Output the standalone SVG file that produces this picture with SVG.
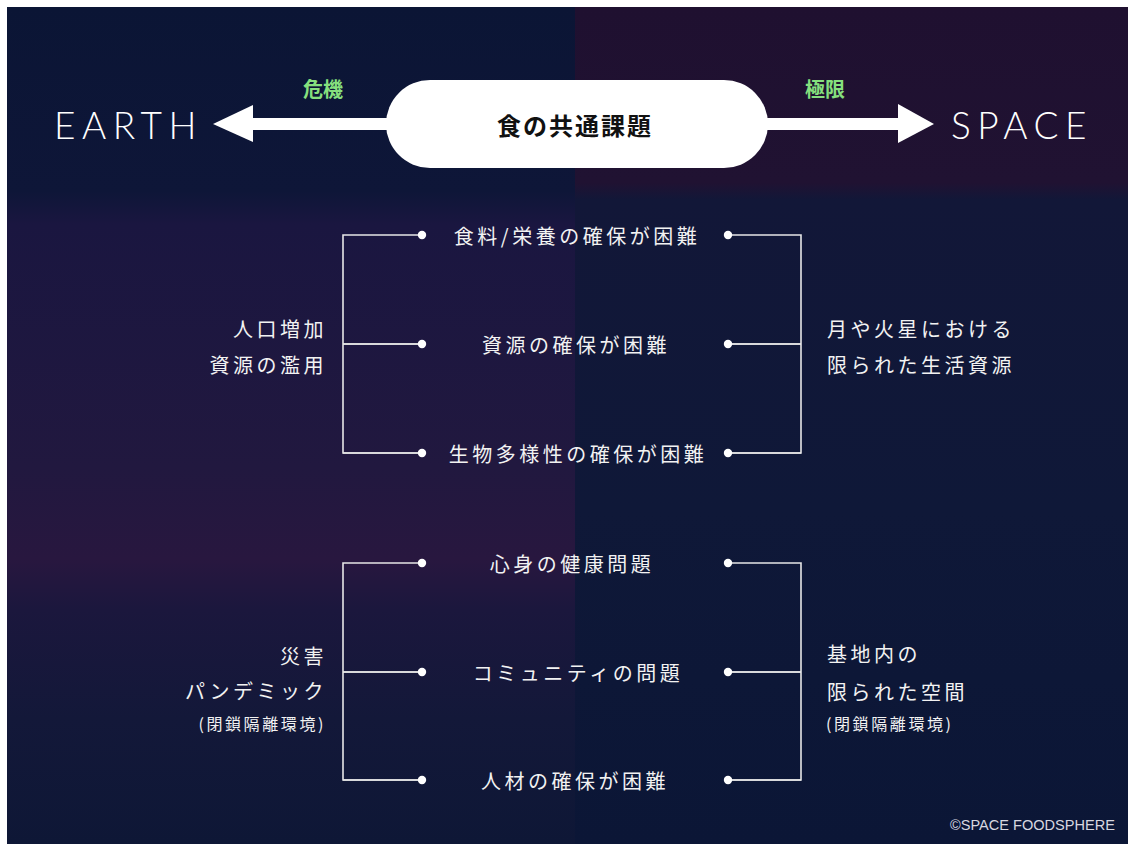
<svg xmlns="http://www.w3.org/2000/svg" width="1135" height="851" viewBox="0 0 1135 851">
  <defs>
    <linearGradient id="bgL" x1="0" y1="0" x2="0" y2="1">
      <stop offset="0" stop-color="#0b1535"/>
      <stop offset="0.22" stop-color="#0e1638"/>
      <stop offset="0.26" stop-color="#1a1640"/>
      <stop offset="0.55" stop-color="#21183f"/>
      <stop offset="0.66" stop-color="#28173f"/>
      <stop offset="0.72" stop-color="#1b173d"/>
      <stop offset="0.85" stop-color="#131839"/>
      <stop offset="1" stop-color="#0e1736"/>
    </linearGradient>
    <linearGradient id="bgR" x1="0" y1="0" x2="0" y2="1">
      <stop offset="0" stop-color="#1f1030"/>
      <stop offset="0.21" stop-color="#201232"/>
      <stop offset="0.23" stop-color="#121738"/>
      <stop offset="0.6" stop-color="#0f1838"/>
      <stop offset="1" stop-color="#0b1636"/>
    </linearGradient>
    <marker id="dot" viewBox="-5 -5 10 10" markerWidth="10" markerHeight="10" markerUnits="userSpaceOnUse">
      <circle r="4.2" fill="#ffffff"/>
    </marker>
  </defs>
  <style>
    .item { font-family: "Noto Sans CJK JP", sans-serif; font-size: 20px; fill: #f2f2f2; letter-spacing: 3.5px; text-anchor: middle; dominant-baseline: central; }
    .lab { font-family: "Noto Sans CJK JP", sans-serif; font-size: 20px; fill: #f2f2f2; letter-spacing: 3.5px; dominant-baseline: central; }
    .small { font-family: "Noto Sans CJK JP", sans-serif; font-size: 16px; fill: #f2f2f2; letter-spacing: 2.6px; dominant-baseline: central; }
    .big { font-family: Lato, "Open Sans", sans-serif; font-weight: 300; font-size: 37px; fill: #ffffff; letter-spacing: 6.5px; dominant-baseline: central; }
    .green { font-family: "Noto Sans CJK JP", sans-serif; font-weight: bold; font-size: 20px; fill: #86e07e; text-anchor: middle; dominant-baseline: central; }
    .br { fill: none; stroke: #e6e6e6; stroke-width: 1.6; }
  </style>

  <rect x="0" y="0" width="1135" height="851" fill="#ffffff"/>
  <rect x="7" y="7" width="568" height="837" fill="url(#bgL)"/>
  <rect x="575" y="7" width="553" height="837" fill="url(#bgR)"/>

  <g id="connectors">
    <!-- main arrows -->
    <rect x="248" y="118" width="147" height="12" fill="#ffffff"/>
    <polygon points="213,124 253,105 253,142" fill="#ffffff"/>
    <rect x="760" y="118" width="142" height="12" fill="#ffffff"/>
    <polygon points="934,124 898,104 898,143" fill="#ffffff"/>
    <!-- top group brackets -->
    <path class="br" d="M422,235 H343 V453 H422 M343,344 H422" marker-start="url(#dot)"/>
    <path class="br" d="M343,344 H422" marker-end="url(#dot)"/>
    <path class="br" d="M343,453 H422" marker-end="url(#dot)"/>
    <path class="br" d="M728,235 H801 V453 H728 M801,344 H728" marker-start="url(#dot)"/>
    <path class="br" d="M801,344 H728" marker-end="url(#dot)"/>
    <path class="br" d="M801,453 H728" marker-end="url(#dot)"/>
    <!-- bottom group brackets -->
    <path class="br" d="M422,563 H343 V780 H422 M343,672 H422" marker-start="url(#dot)"/>
    <path class="br" d="M343,672 H422" marker-end="url(#dot)"/>
    <path class="br" d="M343,780 H422" marker-end="url(#dot)"/>
    <path class="br" d="M728,563 H801 V780 H728 M801,672 H728" marker-start="url(#dot)"/>
    <path class="br" d="M801,672 H728" marker-end="url(#dot)"/>
    <path class="br" d="M801,780 H728" marker-end="url(#dot)"/>
  </g>

  <g id="hub">
    <rect x="386" y="80" width="382" height="88" rx="44" ry="44" fill="#ffffff"/>
    <text x="575" y="124" font-family="'Noto Sans CJK JP', sans-serif" font-weight="bold" font-size="24" letter-spacing="2" fill="#111111" text-anchor="middle" dominant-baseline="central">食の共通課題</text>
  </g>

  <g id="earth">
    <text class="big" x="54" y="124">EARTH</text>
    <text class="green" x="323" y="88">危機</text>
  </g>
  <g id="space">
    <text class="big" x="951" y="124">SPACE</text>
    <text class="green" x="825" y="88">極限</text>
  </g>

  <g id="item-food"><text class="item" x="577" y="235">食料/栄養の確保が困難</text></g>
  <g id="item-resource"><text class="item" x="576" y="344">資源の確保が困難</text></g>
  <g id="item-bio"><text class="item" x="578" y="453">生物多様性の確保が困難</text></g>
  <g id="item-health"><text class="item" x="572" y="563">心身の健康問題</text></g>
  <g id="item-community"><text class="item" x="578" y="672">コミュニティの問題</text></g>
  <g id="item-people"><text class="item" x="575" y="780">人材の確保が困難</text></g>

  <g id="earth-cause-1">
    <text class="lab" x="327" y="328" text-anchor="end">人口増加</text>
    <text class="lab" x="327" y="364" text-anchor="end">資源の濫用</text>
  </g>
  <g id="space-cause-1">
    <text class="lab" x="827" y="328">月や火星における</text>
    <text class="lab" x="827" y="364">限られた生活資源</text>
  </g>
  <g id="earth-cause-2">
    <text class="lab" x="327" y="655" text-anchor="end">災害</text>
    <text class="lab" x="327" y="690" text-anchor="end" letter-spacing="5">パンデミック</text>
    <text class="small" x="326" y="723" text-anchor="end">(閉鎖隔離環境)</text>
  </g>
  <g id="space-cause-2">
    <text class="lab" x="827" y="653">基地内の</text>
    <text class="lab" x="827" y="691">限られた空間</text>
    <text class="small" x="826" y="723">(閉鎖隔離環境)</text>
  </g>

  <text x="1115" y="830" font-family="'Liberation Sans', Arial, sans-serif" font-size="14" fill="#d8d8e0" text-anchor="end" textLength="165" lengthAdjust="spacingAndGlyphs">©SPACE FOODSPHERE</text>
</svg>
